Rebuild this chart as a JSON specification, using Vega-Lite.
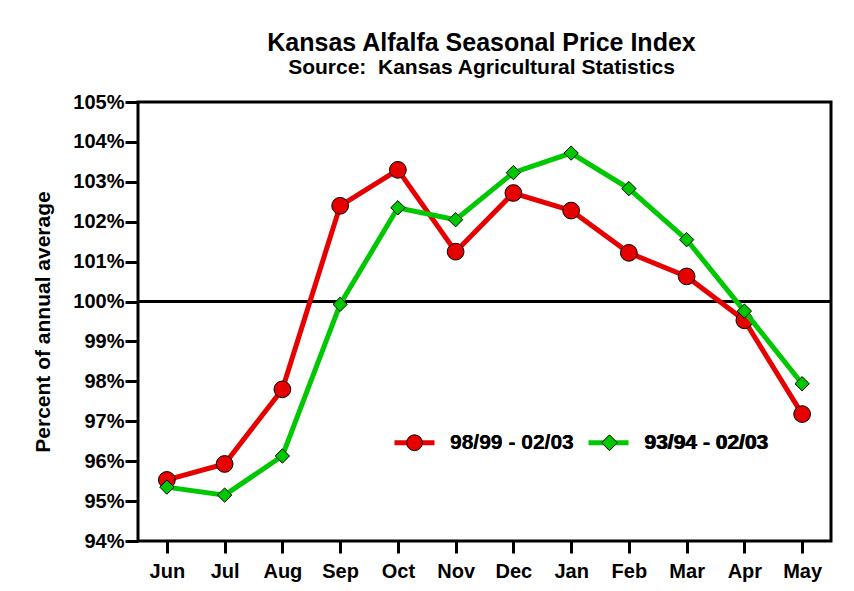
{
  "$schema": "https://vega.github.io/schema/vega-lite/v6.json",
  "width": 693,
  "height": 439,
  "autosize": {"type": "none"},
  "padding": {"left": 138, "top": 102, "right": 23, "bottom": 50},
  "background": "white",
  "title": {
    "text": "Kansas Alfalfa Seasonal Price Index",
    "subtitle": "Source:\u00a0 Kansas Agricultural Statistics",
    "anchor": "middle",
    "font": "Liberation Sans",
    "fontSize": 25,
    "fontWeight": "bold",
    "color": "black",
    "subtitleFont": "Liberation Sans",
    "subtitleFontSize": 21,
    "subtitleFontWeight": "bold",
    "subtitleColor": "black",
    "subtitlePadding": 1,
    "offset": 14,
    "dx": -3
  },
  "config": {
    "view": {"stroke": "black", "strokeWidth": 3},
    "font": "Liberation Sans"
  },
  "data": {
    "values": [
      {"month": "Jun", "series": "98/99 - 02/03", "value": 95.53},
      {"month": "Jul", "series": "98/99 - 02/03", "value": 95.93},
      {"month": "Aug", "series": "98/99 - 02/03", "value": 97.8},
      {"month": "Sep", "series": "98/99 - 02/03", "value": 102.4},
      {"month": "Oct", "series": "98/99 - 02/03", "value": 103.3},
      {"month": "Nov", "series": "98/99 - 02/03", "value": 101.25},
      {"month": "Dec", "series": "98/99 - 02/03", "value": 102.72},
      {"month": "Jan", "series": "98/99 - 02/03", "value": 102.28},
      {"month": "Feb", "series": "98/99 - 02/03", "value": 101.22},
      {"month": "Mar", "series": "98/99 - 02/03", "value": 100.63},
      {"month": "Apr", "series": "98/99 - 02/03", "value": 99.53},
      {"month": "May", "series": "98/99 - 02/03", "value": 97.18},
      {"month": "Jun", "series": "93/94 - 02/03", "value": 95.35},
      {"month": "Jul", "series": "93/94 - 02/03", "value": 95.15},
      {"month": "Aug", "series": "93/94 - 02/03", "value": 96.13},
      {"month": "Sep", "series": "93/94 - 02/03", "value": 99.93},
      {"month": "Oct", "series": "93/94 - 02/03", "value": 102.35},
      {"month": "Nov", "series": "93/94 - 02/03", "value": 102.05},
      {"month": "Dec", "series": "93/94 - 02/03", "value": 103.23},
      {"month": "Jan", "series": "93/94 - 02/03", "value": 103.72},
      {"month": "Feb", "series": "93/94 - 02/03", "value": 102.83},
      {"month": "Mar", "series": "93/94 - 02/03", "value": 101.55},
      {"month": "Apr", "series": "93/94 - 02/03", "value": 99.76},
      {"month": "May", "series": "93/94 - 02/03", "value": 97.94}
    ]
  },
  "encoding": {
    "x": {
      "field": "month",
      "type": "ordinal",
      "sort": ["Jun","Jul","Aug","Sep","Oct","Nov","Dec","Jan","Feb","Mar","Apr","May"],
      "scale": {"type": "point", "padding": 0.5},
      "axis": {
        "title": null,
        "domain": false,
        "grid": false,
        "labelAngle": 0,
        "labelFont": "Liberation Sans",
        "labelFontSize": 20,
        "labelFontWeight": "bold",
        "labelColor": "black",
        "labelPadding": 8,
        "tickColor": "black",
        "tickWidth": 3,
        "tickSize": 12
      }
    },
    "y": {
      "field": "value",
      "type": "quantitative",
      "scale": {"domain": [94, 105], "nice": false, "zero": false},
      "axis": {
        "title": "Percent of annual average",
        "titleFont": "Liberation Sans",
        "titleFontSize": 21,
        "titleFontWeight": "bold",
        "titleColor": "black",
        "titlePadding": 19,
        "values": [94,95,96,97,98,99,100,101,102,103,104,105],
        "labelExpr": "datum.value + '%'",
        "domain": false,
        "grid": false,
        "labelFont": "Liberation Sans",
        "labelFontSize": 20,
        "labelFontWeight": "bold",
        "labelColor": "black",
        "labelPadding": 1,
        "tickColor": "black",
        "tickWidth": 3,
        "tickSize": 13
      }
    }
  },
  "layer": [
    {
      "data": {"values": [{"ref": 100}]},
      "mark": {"type": "rule", "color": "black", "strokeWidth": 3},
      "encoding": {"y": {"field": "ref", "type": "quantitative"}, "x": null}
    },
    {
      "transform": [{"filter": "datum.series === '98/99 - 02/03'"}],
      "mark": {"type": "line", "strokeWidth": 5},
      "encoding": {
        "color": {
          "field": "series",
          "type": "nominal",
          "sort": "descending",
          "scale": {"range": ["#e60000", "#00c800"]},
          "legend": {
            "orient": "none",
            "legendX": 254,
            "legendY": 318,
            "direction": "horizontal",
            "title": null,
            "symbolType": "stroke",
            "symbolSize": 1600,
            "symbolStrokeWidth": 5,
            "labelFont": "Liberation Sans",
            "labelFontSize": 21,
            "labelFontWeight": "bold",
            "labelColor": "black",
            "labelOffset": 13,
            "columnPadding": 4
          }
        }
      }
    },
    {
      "transform": [{"filter": "datum.series === '98/99 - 02/03'"}],
      "mark": {"type": "point", "filled": true, "size": 280, "stroke": "black", "strokeWidth": 1, "opacity": 1},
      "encoding": {
        "fill": {
          "field": "series",
          "type": "nominal",
          "scale": {"domain": ["98/99 - 02/03", "93/94 - 02/03"], "range": ["#e60000", "#00c800"]},
          "legend": {
            "orient": "none",
            "legendX": 266,
            "legendY": 330,
            "direction": "horizontal",
            "title": null,
            "symbolSize": 250,
            "symbolStrokeColor": "black",
            "symbolStrokeWidth": 1,
            "labelFont": "Liberation Sans",
            "labelFontSize": 21,
            "labelFontWeight": "bold",
            "labelColor": "black",
            "labelOffset": 25,
            "columnPadding": 25
          }
        },
        "shape": {
          "field": "series",
          "type": "nominal",
          "scale": {"domain": ["98/99 - 02/03", "93/94 - 02/03"], "range": ["circle", "diamond"]}
        }
      }
    },
    {
      "transform": [{"filter": "datum.series === '93/94 - 02/03'"}],
      "mark": {"type": "line", "strokeWidth": 5},
      "encoding": {
        "color": {"field": "series", "type": "nominal", "sort": "descending"}
      }
    },
    {
      "transform": [{"filter": "datum.series === '93/94 - 02/03'"}],
      "mark": {"type": "point", "filled": true, "size": 205, "stroke": "black", "strokeWidth": 1, "opacity": 1},
      "encoding": {
        "fill": {"field": "series", "type": "nominal"},
        "shape": {"field": "series", "type": "nominal"}
      }
    }
  ]
}
